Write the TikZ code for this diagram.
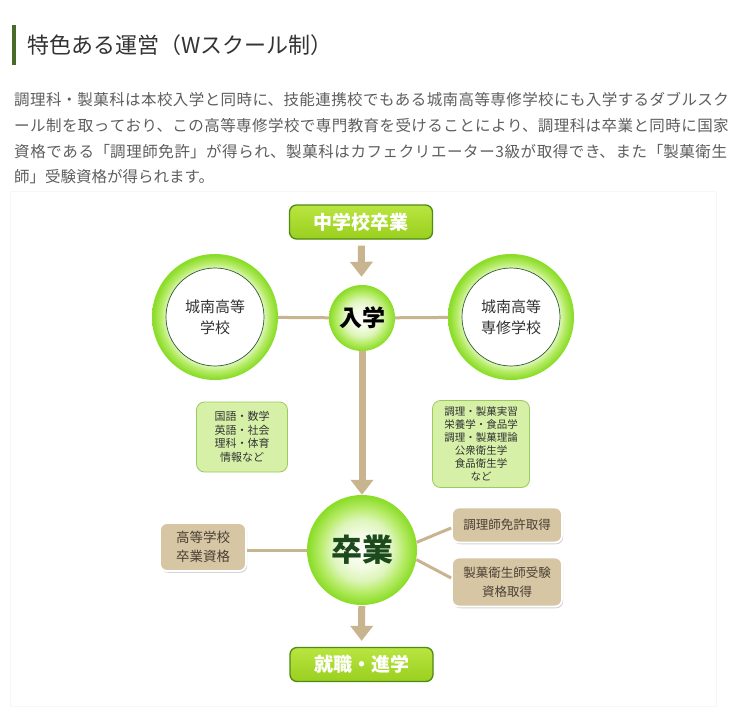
\documentclass[tikz,border=0pt]{standalone}
\usepackage{fontspec}
\setmainfont{Noto Sans CJK JP}
\usetikzlibrary{arrows.meta,shadows}
\XeTeXlinebreaklocale "ja"
\XeTeXlinebreakskip=0pt plus 3pt
\definecolor{headbar}{HTML}{4A6A2A}
\definecolor{headtext}{HTML}{333333}
\definecolor{paratext}{HTML}{5E5E5E}
\definecolor{limeA}{HTML}{B9E540}
\definecolor{limeB}{HTML}{9ACF1E}
\definecolor{limeborder}{HTML}{4E8A14}
\definecolor{ringin}{HTML}{E4F8C8}
\definecolor{ringmid}{HTML}{B8EC6A}
\definecolor{ringout}{HTML}{8CDD2A}
\definecolor{midpale}{HTML}{F2FBE2}
\definecolor{midlight}{HTML}{DDF5BA}
\definecolor{innerline}{HTML}{2E5A2E}
\definecolor{tanline}{HTML}{C9B490}
\definecolor{tanfill}{HTML}{D6C6A3}
\definecolor{tantext}{HTML}{4A4036}
\definecolor{subfill}{HTML}{D6F0A8}
\definecolor{subborder}{HTML}{9CCB5C}
\definecolor{gradtext}{HTML}{1D4A1D}
\definecolor{panelline}{HTML}{F7F7F7}
\pgfdeclareradialshading{ringsh}{\pgfpoint{0bp}{0bp}}{color(0bp)=(white);color(19bp)=(ringin);color(21.5bp)=(ringmid);color(24.5bp)=(ringout);color(50bp)=(ringout)}
\pgfdeclareradialshading{midsh}{\pgfpoint{0bp}{0bp}}{color(0bp)=(white);color(8bp)=(midpale);color(14bp)=(midlight);color(19bp)=(ringmid);color(24.5bp)=(ringout);color(50bp)=(ringout)}
\tikzset{
  limebox/.style={rounded corners=7pt, minimum width=143pt, minimum height=34pt,
    top color=limeA, bottom color=limeB, draw=limeborder, line width=1.3pt,
    text=white, font=\bfseries\fontsize{19}{19}\selectfont},
  bigring/.style={circle, minimum size=126pt, inner sep=0pt, shading=ringsh},
  innerdisc/.style={circle, minimum size=98pt, inner sep=0pt, fill=white, draw=innerline,
    line width=0.7pt, align=center, text=headtext, font=\fontsize{15}{21}\selectfont},
  midcircle/.style={circle, inner sep=0pt, shading=midsh},
  tanconn/.style={draw=tanline, line width=3pt},
  tanarrow/.style={draw=tanline, line width=7pt, -{Triangle[width=22pt,length=15pt]}},
  subbox/.style={rounded corners=8pt, fill=subfill, draw=subborder, line width=0.8pt,
    align=center, text=headtext, inner sep=0pt},
  tanbox/.style={rounded corners=7pt, fill=tanfill, draw=white, line width=1.8pt,
    align=center, text=tantext, inner sep=0pt,
    drop shadow={shadow xshift=1.2pt, shadow yshift=-1.8pt, opacity=0.3, fill=black!55}},
  paraline/.style={anchor=west, inner sep=0pt, text=paratext, font=\fontsize{15.5}{15.5}\selectfont}
}
\begin{document}
\begin{tikzpicture}[x=1pt,y=-1pt]
\useasboundingbox (0,0) rectangle (750,720);
\fill[white] (0,0) rectangle (750,720);
\draw[panelline, fill=white] (10,191) rectangle (716,706);
% heading
\fill[headbar] (12,25) rectangle (16,65);
\node[anchor=west, inner sep=0pt, text=headtext, font=\fontsize{22}{22}\selectfont] (head) at (27,45) {特色ある運営（Wスクール制）};
% paragraph
\node[paraline, text width=719pt] (p1) at (14,100) {\noindent\parfillskip=0pt\relax 調理科・製菓科は本校入学と同時に、技能連携校でもある城南高等専修学校にも入学するダブルスク\par};
\node[paraline, text width=719pt] (p2) at (14,126) {\noindent\parfillskip=0pt\relax ール制を取っており、この高等専修学校で専門教育を受けることにより、調理科は卒業と同時に国家\par};
\node[paraline, text width=719pt] (p3) at (14,152) {\noindent\parfillskip=0pt\relax 資格である「調理師免許」が得られ、製菓科はカフェクリエーター3級が取得でき、また「製菓衛生\par};
\node[paraline] (p4) at (14,177) {師」受験資格が得られます。};
% diagram nodes
\node[limebox] (jhs) at (361,222) {中学校卒業};
\node[midcircle, minimum size=66pt, text=black, font=\bfseries\fontsize{23}{23}\selectfont] (nyu) at (362,318) {入学};
\node[bigring] (lc) at (215,317) {};
\node[innerdisc] (lct) at (lc) {城南高等\\学校};
\node[bigring] (rc) at (511,317) {};
\node[innerdisc] (rct) at (rc) {城南高等\\専修学校};
\node[subbox, minimum width=91pt, minimum height=70pt, font=\fontsize{11}{13.5}\selectfont] (sl) at (242,437) {国語・数学\\英語・社会\\理科・体育\\情報など};
\node[subbox, minimum width=97pt, minimum height=87pt, font=\fontsize{10.5}{13}\selectfont] (sr) at (481,444) {調理・製菓実習\\栄養学・食品学\\調理・製菓理論\\公衆衛生学\\食品衛生学\\など};
\node[midcircle, minimum size=110pt, text=gradtext, font=\bfseries\fontsize{31}{31}\selectfont] (grad) at (362,550) {卒業};
\node[tanbox, minimum width=86pt, minimum height=48pt, font=\fontsize{13.5}{19}\selectfont] (hq) at (203,547) {高等学校\\卒業資格};
\node[tanbox, minimum width=110pt, minimum height=35pt, font=\fontsize{12.5}{18}\selectfont] (lic) at (507,525) {調理師免許取得};
\node[tanbox, minimum width=110pt, minimum height=49pt, font=\fontsize{12.5}{19}\selectfont] (conf) at (507,582) {製菓衛生師受験\\資格取得};
\node[limebox] (job) at (361.5,664.5) {就職・進学};
% connectors
\draw[tanarrow, shorten <=6pt, shorten >=8pt] (jhs) -- (nyu);
\draw[tanconn] (lc) -- (nyu);
\draw[tanconn] (nyu) -- (rc);
\draw[tanarrow] (nyu) -- (grad);
\draw[tanconn] (grad.west) -- (grad.west -| hq.east);
\draw[tanconn] (grad.8) -- ([yshift=-3pt]lic.west);
\draw[tanconn] (grad.-10) -- ([yshift=4pt]conf.west);
\draw[tanarrow, shorten <=1pt, shorten >=6pt] (grad) -- (job);
\end{tikzpicture}
\end{document}
